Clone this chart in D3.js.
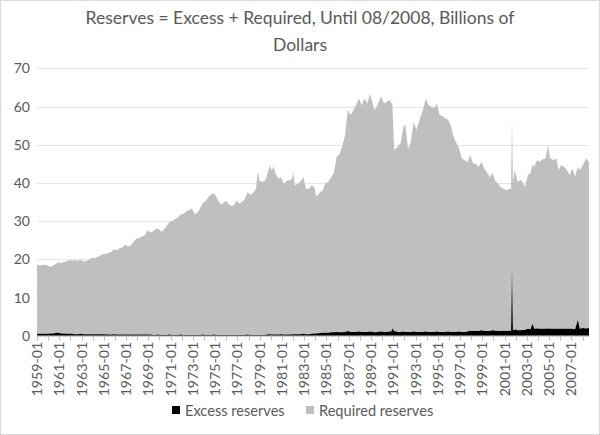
<!DOCTYPE html>
<html>
<head>
<meta charset="utf-8">
<script src="https://cdn.jsdelivr.net/npm/d3@7"></script>
<style>
  html, body { margin: 0; padding: 0; background: #fff; }
  svg { display: block; }
  text { font-family: Lato, "Open Sans", sans-serif; fill: #595959; }
</style>
</head>
<body>
<svg id="chart" width="600" height="435"></svg>
<script>
const title = ["Reserves = Excess + Required, Until 08/2008, Billions of", "Dollars"];
const seriesNames = ["Excess reserves", "Required reserves"];
const yTicks = [0, 10, 20, 30, 40, 50, 60, 70];

const dates = [
"1959-01","1959-04","1959-07","1959-10","1960-01","1960-03","1960-06","1960-09","1960-12",
"1961-03","1961-06","1961-09","1961-12","1962-03","1962-06","1962-09","1962-12",
"1963-03","1963-06","1963-09","1963-12","1964-03","1964-06","1964-09","1964-12",
"1965-03","1965-06","1965-09","1965-12","1966-03","1966-06","1966-09","1966-12",
"1967-03","1967-06","1967-09","1967-12","1968-03","1968-06","1968-09","1968-12",
"1969-03","1969-06","1969-09","1969-12","1970-03","1970-06","1970-09","1970-12",
"1971-03","1971-06","1971-09","1971-12","1972-03","1972-06","1972-09","1972-12",
"1973-03","1973-06","1973-09","1973-12","1974-03","1974-06","1974-09","1974-12",
"1975-03","1975-06","1975-09","1975-12","1976-03","1976-06","1976-09","1976-12",
"1977-03","1977-06","1977-09","1977-12","1978-03","1978-06","1978-09","1978-11",
"1979-01","1979-04","1979-07","1979-09","1979-12","1980-02","1980-04","1980-06","1980-09","1980-12",
"1981-03","1981-06","1981-09","1981-12","1982-01","1982-03","1982-06","1982-09","1982-12",
"1983-03","1983-06","1983-09","1983-12","1984-02","1984-06","1984-09","1984-12",
"1985-03","1985-06","1985-09","1985-12","1986-03","1986-06","1986-09","1986-12",
"1987-03","1987-06","1987-09","1987-12","1988-03","1988-06","1988-09","1988-12",
"1989-03","1989-05","1989-08","1989-12","1990-03","1990-06","1990-09","1990-11","1990-12",
"1991-02","1991-06","1991-09","1991-12","1992-02","1992-05","1992-08","1992-11",
"1993-02","1993-06","1993-09","1993-12","1994-03","1994-06","1994-09","1994-12",
"1995-03","1995-06","1995-09","1995-12","1996-03","1996-06","1996-09","1996-12",
"1997-03","1997-06","1997-09","1997-12","1998-03","1998-06","1998-09","1998-12",
"1999-03","1999-06","1999-09","1999-12","2000-03","2000-06","2000-09","2000-12",
"2001-03","2001-06","2001-08","2001-09","2001-10","2001-12",
"2002-03","2002-06","2002-09","2002-11","2003-02","2003-05","2003-07","2003-09","2003-12",
"2004-03","2004-06","2004-09","2004-12","2005-02","2005-06","2005-09","2005-11",
"2006-02","2006-06","2006-09","2006-11","2007-02","2007-05","2007-08","2007-10",
"2008-01","2008-05","2008-08"
];

const excess = [
0.5,0.5,0.5,0.5,0.5,0.6,0.6,0.7,0.8,
0.6,0.6,0.5,0.5,0.5,0.4,0.4,0.5,
0.4,0.4,0.4,0.4,0.4,0.4,0.4,0.4,
0.4,0.3,0.3,0.4,0.3,0.3,0.3,0.3,
0.3,0.3,0.3,0.3,0.3,0.3,0.3,0.3,
0.3,0.2,0.2,0.3,0.2,0.2,0.2,0.3,
0.2,0.2,0.2,0.3,0.2,0.2,0.2,0.2,
0.2,0.2,0.2,0.3,0.2,0.2,0.2,0.3,
0.2,0.2,0.2,0.2,0.2,0.2,0.2,0.2,
0.2,0.2,0.2,0.3,0.2,0.2,0.2,0.2,
0.2,0.2,0.2,0.3,0.4,0.3,0.3,0.3,0.3,0.4,
0.3,0.3,0.3,0.4,0.4,0.4,0.4,0.4,0.5,
0.4,0.4,0.5,0.6,0.6,0.7,0.8,0.8,
0.8,0.9,0.9,1.0,0.9,0.9,1.0,1.2,
1.0,1.0,1.0,1.1,1.0,1.0,1.0,1.1,
1.0,0.9,1.0,1.1,1.0,1.0,1.1,1.1,1.9,
1.2,1.0,1.0,1.1,1.0,1.0,1.0,1.1,
1.0,1.0,1.0,1.1,1.0,1.0,1.0,1.1,
1.0,1.0,1.0,1.1,1.0,1.0,1.0,1.1,
1.0,1.0,1.1,1.3,1.2,1.2,1.2,1.4,
1.2,1.2,1.2,1.4,1.3,1.2,1.2,1.3,
1.2,1.3,1.3,17.6,1.4,1.6,
1.4,1.4,1.5,1.5,1.8,1.7,3.1,1.8,1.9,
1.8,1.8,1.8,1.9,1.8,1.8,1.8,1.8,
1.8,1.8,1.8,1.8,1.8,1.7,4.1,1.8,
2.0,1.9,2.0
];

const required = [
18.1,17.9,18.0,18.1,17.9,17.4,17.7,18.1,18.4,
18.4,18.7,19.0,19.3,19.1,19.4,19.2,19.4,
19.0,19.2,19.5,20.0,19.9,20.2,20.5,21.0,
20.9,21.4,21.6,22.2,22.1,22.6,22.8,23.5,
23.1,23.3,24.3,25.1,25.3,25.7,25.9,27.3,
26.7,27.1,27.7,27.7,27.0,27.6,28.6,29.6,
29.8,30.4,30.8,31.4,31.7,32.3,32.8,33.1,
31.6,32.0,33.3,34.5,35.1,36.2,36.8,37.0,
35.8,34.4,34.3,35.1,34.4,33.8,33.9,35.2,
34.4,34.8,35.6,37.3,36.6,37.2,38.3,42.7,
40.3,40.1,40.4,41.7,44.2,42.9,43.9,42.2,40.8,41.1,
39.5,40.2,40.4,40.6,42.5,39.0,39.4,39.9,41.1,
38.1,38.1,38.9,38.2,35.8,36.8,37.3,39.2,
39.5,40.6,41.6,45.9,46.6,48.6,51.5,57.9,
56.8,58.0,59.4,61.0,59.3,61.1,59.8,62.2,
59.5,58.2,59.4,61.5,59.8,60.2,60.6,59.7,59.1,
47.4,48.5,49.5,53.6,54.2,47.8,49.8,54.9,
52.9,56.0,58.1,61.0,59.4,58.9,58.6,59.7,
56.8,56.5,55.9,55.4,54.0,51.1,49.5,48.0,
45.4,45.0,44.4,46.0,43.9,43.8,43.0,44.1,
42.6,41.6,40.3,41.1,39.2,38.6,37.6,37.2,
36.9,37.2,37.1,39.3,38.9,41.8,
38.9,39.4,38.5,37.4,40.2,40.8,41.6,42.4,44.1,
43.7,44.4,44.6,48.0,44.6,44.2,44.6,41.6,
42.9,42.2,41.2,40.2,42.0,39.9,40.1,41.6,
42.5,44.5,43.5
];

const W = 600, H = 435;
const plot = { left: 37, right: 589, top: 68.3, bottom: 335.7 };
const svg = d3.select("#chart");

// border
svg.append("rect").attr("x", 0.5).attr("y", 0.5).attr("width", W - 1).attr("height", H - 1)
  .attr("fill", "#fff").attr("stroke", "#d9d9d9");

const monthIndex = s => { const [y, m] = s.split("-").map(Number); return (y - 1959) * 12 + (m - 1); };
const lastIdx = monthIndex("2008-08");

const x = d3.scaleLinear().domain([0, lastIdx]).range([plot.left, plot.right]);
const y = d3.scaleLinear().domain([0, 70]).range([plot.bottom, plot.top]);

// title
svg.append("g").selectAll("text").data(title).join("text")
  .attr("x", 300).attr("y", (d, i) => 24 + i * 27)
  .attr("text-anchor", "middle").attr("font-size", 17.5).text(d => d);

// gridlines
svg.append("g").selectAll("line").data(yTicks.filter(t => t > 0)).join("line")
  .attr("x1", plot.left).attr("x2", plot.right)
  .attr("y1", d => Math.round(y(d)) + 0.5).attr("y2", d => Math.round(y(d)) + 0.5)
  .attr("stroke", "#e6e6e6").attr("stroke-width", 1);

// y labels
svg.append("g").selectAll("text").data(yTicks).join("text")
  .attr("x", 30).attr("y", d => y(d) + 5)
  .attr("text-anchor", "end").attr("font-size", 14).text(d => d);

// stacked areas
const rows = dates.map((d, i) => ({ m: monthIndex(d), excess: excess[i], required: required[i] }));
const stack = d3.stack().keys(["excess", "required"]);
const layers = stack(rows);
const colors = { excess: "#000000", required: "#bfbfbf" };
const area = d3.area().x(d => x(d.data.m)).y0(d => y(d[0])).y1(d => y(d[1]));

svg.append("g").selectAll("path").data(layers.slice().reverse()).join("path")
  .attr("d", area).attr("fill", d => colors[d.key]);

// x axis
const tickMonths = d3.range(0, lastIdx + 1, 12);
const labelMonths = d3.range(0, lastIdx + 1, 24);
const axis = svg.append("g");
axis.append("line").attr("x1", plot.left).attr("x2", plot.right)
  .attr("y1", plot.bottom + 0.5).attr("y2", plot.bottom + 0.5).attr("stroke", "#bfbfbf");
axis.selectAll("line.tick").data(tickMonths).join("line").attr("class", "tick")
  .attr("x1", d => Math.round(x(d)) + 0.5).attr("x2", d => Math.round(x(d)) + 0.5)
  .attr("y1", plot.bottom).attr("y2", plot.bottom + 5).attr("stroke", "#bfbfbf");
const fmt = m => `${1959 + Math.floor(m / 12)}-${String(m % 12 + 1).padStart(2, "0")}`;
axis.selectAll("text").data(labelMonths).join("text")
  .attr("transform", d => `translate(${x(d) + 5},${plot.bottom + 6}) rotate(-90)`)
  .attr("text-anchor", "end").attr("font-size", 14.2).text(fmt);

// legend
const legend = svg.append("g");
const legendItems = [
  { name: seriesNames[0], color: colors.excess, x: 172 },
  { name: seriesNames[1], color: colors.required, x: 306 }
];
legendItems.forEach(it => {
  legend.append("rect").attr("x", it.x).attr("y", 406).attr("width", 8).attr("height", 8).attr("fill", it.color);
  legend.append("text").attr("x", it.x + 13).attr("y", 415.5).attr("font-size", 14.6).text(it.name);
});
</script>
</body>
</html>
